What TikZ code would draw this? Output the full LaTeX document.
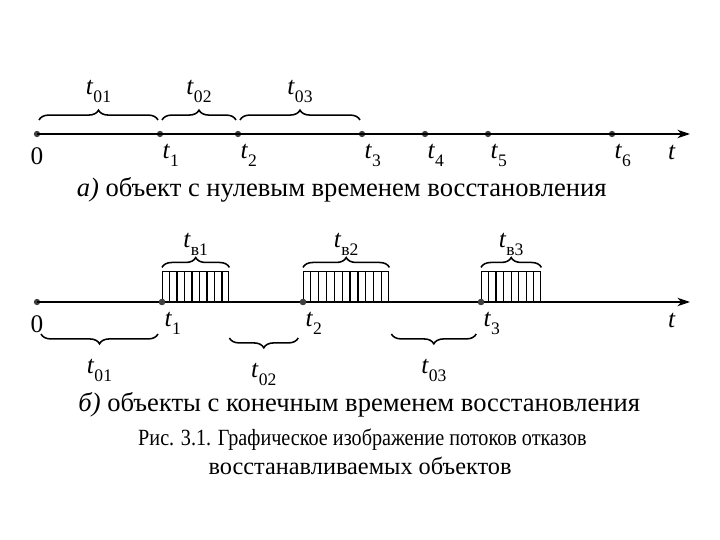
\documentclass[tikz,border=0pt]{standalone}
\usepackage{fontspec}
\setmainfont{Liberation Serif}
\usetikzlibrary{arrows.meta,positioning,calc,decorations.pathreplacing}

\newcommand{\tlab}[1]{\textit{t}\raisebox{-0.7ex}{\fontsize{12.5}{13}\selectfont #1}}

\begin{document}
\begin{tikzpicture}[font=\fontsize{18}{20}\selectfont,
  pt/.style={circle,fill=black!75,inner sep=0pt,minimum size=4.5pt},
  ax/.style={line width=1pt,-{Stealth[length=9pt,width=6pt]}},
  brc/.style={decorate,decoration={brace,amplitude=7pt},line width=1.1pt},
  rbox/.style={draw,line width=1pt,minimum height=0.75cm,inner sep=0pt,anchor=south west},
  captxt/.style={font=\fontsize{18.9}{21}\selectfont}]
\useasboundingbox (0,0) rectangle (18,13.5);

% a) zero recovery time
\node[pt] (p0) at (0.925,10.15) {};
\node[pt] (p1) at (4.0,10.15) {};
\node[pt] (p2) at (5.95,10.15) {};
\node[pt] (p3) at (9.05,10.15) {};
\node[pt] (p4) at (10.625,10.15) {};
\node[pt] (p5) at (12.2,10.15) {};
\node[pt] (p6) at (15.3,10.15) {};
\coordinate (pend) at (17.25,10.15);
\draw[ax] (p0.center) -- (pend);
\node[below=0.12cm of p0] {0};
\foreach \i in {1,...,6}
  \node[below right=0.08cm and -0.12cm of p\i] {\tlab{\i}};
\node[below=0.15cm of pend,xshift=-0.45cm] {\textit{t}};
\draw[brc] ($(p0)+(0.05,0.35)$) -- ($(p1)+(-0.05,0.35)$) node[midway,above=0.3cm] {\tlab{01}};
\draw[brc] ($(p1)+(0.05,0.35)$) -- ($(p2)+(-0.05,0.35)$) node[midway,above=0.3cm] {\tlab{02}};
\draw[brc] ($(p2)+(0.05,0.35)$) -- ($(p3)+(-0.05,0.35)$) node[midway,above=0.3cm] {\tlab{03}};
\node[captxt] (capa) at (8.54,8.75) {\textit{а)} объект с нулевым временем восстановления};

% b) finite recovery time
\node[pt] (q0) at (0.925,5.95) {};
\node[pt] (q1) at (4.05,5.95) {};
\node[pt] (q2) at (7.575,5.95) {};
\node[pt] (q3) at (12.025,5.95) {};
\coordinate (qend) at (17.25,5.95);
\draw[ax] (q0.center) -- (qend);
\node[rbox,minimum width=1.65cm] (b1) at (q1.center) {};
\node[rbox,minimum width=2.125cm] (b2) at (q2.center) {};
\node[rbox,minimum width=1.475cm] (b3) at (q3.center) {};
\foreach \b/\n in {b1/8,b2/10,b3/7}
  \foreach \k in {1,...,\n}
    \draw[line width=0.9pt] ($(\b.south west)!{\k/(\n+1)}!(\b.south east)$) -- ($(\b.north west)!{\k/(\n+1)}!(\b.north east)$);
\foreach \i in {1,2,3} {
  \node[pt] at (q\i) {};
  \node[below right=0.08cm and -0.12cm of q\i] {\tlab{\i}};
  \draw[brc] ($(b\i.north west)+(0,0.08)$) -- ($(b\i.north east)+(0,0.08)$) node[midway,above=0.15cm] {\tlab{в\i}};
}
\node[below=0.12cm of q0] {0};
\node[below=0.15cm of qend,xshift=-0.45cm] {\textit{t}};
\draw[brc] ($(q1)+(-0.1,-0.8)$) -- ($(q0)+(0.1,-0.8)$) node[midway,below=0.5cm] {\tlab{01}};
\draw[brc] ($(q2)+(-0.12,-0.9)$) -- ($(b1.south east)+(0,-0.9)$) node[midway,below=0.5cm] {\tlab{02}};
\draw[brc] ($(q3)+(-0.12,-0.8)$) -- ($(b2.south east)+(0.05,-0.8)$) node[midway,below=0.5cm] {\tlab{03}};
\node[captxt] (capb) at (8.98,3.375) {\textit{б)} объекты с конечным временем восстановления};

% figure caption
\node[captxt,font=\fontsize{16.5}{18}\selectfont,xscale=0.87,transform shape] (fig1) at (9.06,2.5) {Рис. 3.1. Графическое изображение потоков отказов};
\node[captxt,font=\fontsize{17.3}{19}\selectfont] (fig2) at (9.0,1.85) {восстанавливаемых объектов};
\end{tikzpicture}
\end{document}
